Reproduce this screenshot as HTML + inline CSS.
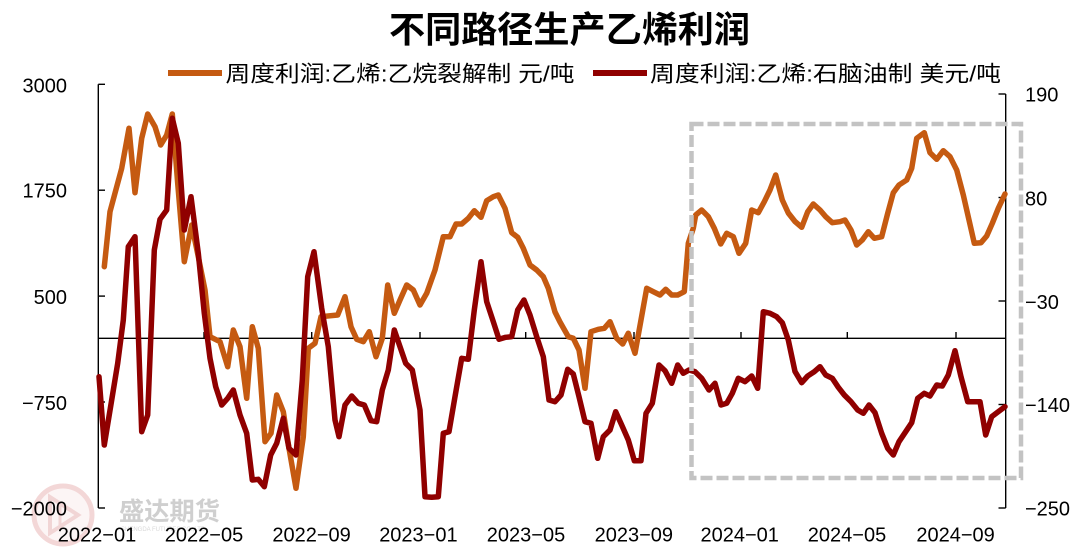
<!DOCTYPE html>
<html>
<head>
<meta charset="utf-8">
<style>
  html, body { margin: 0; padding: 0; background: #ffffff; }
  body { width: 1080px; height: 552px; overflow: hidden; }
  svg { display: block; }
  text { font-family: "Liberation Sans", "Noto Sans CJK SC", sans-serif; fill: #000; }
</style>
</head>
<body>
<svg width="1080" height="552" viewBox="0 0 1080 552" xmlns="http://www.w3.org/2000/svg">
  <rect x="0" y="0" width="1080" height="552" fill="#ffffff"/>

  <!-- Watermark -->
  <g opacity="0.55">
    <circle cx="63" cy="515" r="29" fill="#fbeeee" stroke="#eab8b8" stroke-width="5"/>
    <path d="M50 497 L78 515 L50 533 Z" fill="none" stroke="#e7b3b3" stroke-width="4"/>
    <path d="M60 502 L60 528" stroke="#e7b3b3" stroke-width="3"/>
  </g>
  <text x="119" y="520" font-size="25" font-weight="bold" style="fill:#cfcfcf" textLength="101" lengthAdjust="spacingAndGlyphs">盛达期货</text>
  <text x="121" y="531" font-size="6" style="fill:#d8d8d8">SHENGDA FUTURES CO.,LTD</text>

  <!-- Title -->
  <text x="389" y="42" font-size="36" font-weight="bold" textLength="361" lengthAdjust="spacingAndGlyphs">不同路径生产乙烯利润</text>

  <!-- Legend -->
  <line x1="168" y1="73" x2="222" y2="73" stroke="#C55A11" stroke-width="6"/>
  <text x="225.5" y="81.5" font-size="22" textLength="349" lengthAdjust="spacingAndGlyphs">周度利润:乙烯:乙烷裂解制 元/吨</text>
  <line x1="593" y1="73" x2="647" y2="73" stroke="#900000" stroke-width="6"/>
  <text x="650" y="81.5" font-size="22" textLength="351" lengthAdjust="spacingAndGlyphs">周度利润:乙烯:石脑油制 美元/吨</text>

  <!-- Left axis -->
  <g stroke="#000" stroke-width="1.4" fill="none">
    <line x1="98.3" y1="84.3" x2="98.3" y2="508"/>
    <line x1="98.3" y1="84.3" x2="105" y2="84.3"/>
    <line x1="98.3" y1="190.2" x2="105" y2="190.2"/>
    <line x1="98.3" y1="296.1" x2="105" y2="296.1"/>
    <line x1="98.3" y1="402" x2="105" y2="402"/>
    <line x1="98.3" y1="508" x2="105" y2="508"/>
    <!-- Right axis -->
    <line x1="1005.7" y1="94" x2="1005.7" y2="508"/>
    <line x1="998.5" y1="94" x2="1005.7" y2="94"/>
    <line x1="998.5" y1="197.5" x2="1005.7" y2="197.5"/>
    <line x1="998.5" y1="301" x2="1005.7" y2="301"/>
    <line x1="998.5" y1="404.5" x2="1005.7" y2="404.5"/>
    <line x1="998.5" y1="508" x2="1005.7" y2="508"/>
    <!-- Zero line / x axis -->
    <line x1="98.3" y1="338.3" x2="1005.7" y2="338.3"/>
    <line x1="204" y1="332" x2="204" y2="338.3"/>
    <line x1="311.7" y1="332" x2="311.7" y2="338.3"/>
    <line x1="420" y1="332" x2="420" y2="338.3"/>
    <line x1="525.7" y1="332" x2="525.7" y2="338.3"/>
    <line x1="634" y1="332" x2="634" y2="338.3"/>
    <line x1="741" y1="332" x2="741" y2="338.3"/>
    <line x1="847.3" y1="332" x2="847.3" y2="338.3"/>
    <line x1="956" y1="332" x2="956" y2="338.3"/>
  </g>

  <!-- Left labels -->
  <g font-size="20" text-anchor="end">
    <text x="67" y="92.5">3000</text>
    <text x="67" y="197.5">1750</text>
    <text x="67" y="303.8">500</text>
    <text x="67" y="410">−750</text>
    <text x="67" y="515.5">−2000</text>
  </g>
  <!-- Right labels -->
  <g font-size="20" text-anchor="start">
    <text x="1025" y="101.3">190</text>
    <text x="1025" y="205.5">80</text>
    <text x="1025" y="308.9">−30</text>
    <text x="1025" y="412.2">−140</text>
    <text x="1025" y="515.5">−250</text>
  </g>
  <!-- X labels -->
  <g font-size="20" text-anchor="middle">
    <text x="97" y="541.5">2022−01</text>
    <text x="204" y="541.5">2022−05</text>
    <text x="311.6" y="541.5">2022−09</text>
    <text x="418.4" y="541.5">2023−01</text>
    <text x="526" y="541.5">2023−05</text>
    <text x="633.8" y="541.5">2023−09</text>
    <text x="739.7" y="541.5">2024−01</text>
    <text x="847" y="541.5">2024−05</text>
    <text x="955.6" y="541.5">2024−09</text>
  </g>

  <!-- Orange series -->
  <polyline fill="none" stroke="#C55A11" stroke-width="5.5" stroke-linejoin="round" stroke-linecap="round" points="
104.3,266.7 110,211.7 121.7,168.3 129,128.3 135,192.7 141.7,138.3 147.7,114 155,126.7 160.7,145 166.7,135 172.3,114 177.7,183.3 184.3,261.7 191.7,225 198.3,256.7 205,290 210,336.7 220,341.7 227.7,366.7 233.3,330 240,346.7 246.7,398.3 252.3,326.7 258.3,348.3 265,441.7 271,433.3 276.7,395 283.3,411.7 289,448.3 296,488.3 303.3,436.7 308.3,348.3 315,343.3 321,316.7 337.7,315 345,296.7 351,326.7 356.7,339.3 363.3,341.7 369.3,331.7 376,356.7 382.3,338.3 387.7,285 394.3,313.3 400,300 406.7,285 413.3,290 420,305 426.7,293.3 435,270 443.3,236.7 450,236.7 456,224 461.7,224 468.3,218.3 474.3,210.7 481,217.3 486.7,200.7 493.3,196.7 498.3,195 505,208.3 511.7,232.7 517.7,237.3 523.3,248.3 530,265 536.7,270 543.3,276.7 548.3,288.3 555,312 560,322 568.3,336.7 573.3,338.3 579,350 585,388.3 591,331.7 598.3,329.3 604.3,328.3 610,321.7 616.7,338.3 622.7,344 628.3,333.3 635,353.3 641,320 646.7,288.3 653.3,291.7 660,295 665.7,289.3 671.7,295 677.7,295 684.3,291.7 688.3,243.3 693.3,228.3 695.7,215 701.7,210 708.3,216.7 714.3,228.3 720.7,244 726.7,233.3 733.3,236.7 739,253.3 745.7,243.3 751.7,210 758.3,212.7 764.3,201.7 770,190 775.7,175 782.3,200 788.3,213 795,221.5 801.7,227.3 807.7,211.7 813.3,204 820,210 825.7,216.7 832.3,222.7 840,221.7 845,220 851,230 856.7,245 862.3,240 868.3,231.7 874.3,238.3 881.7,236.7 887.7,213.3 893.3,192.7 899,185 906.7,180 911.7,168.3 916.7,138.3 924.3,132.7 930,152.7 936.7,159.3 943.3,150.7 950,156.7 956.7,170 963.3,195 969,220 974.3,243.3 981,242.7 986.7,236 992.3,223.3 998.3,208.3 1005,194"/>

  <!-- Dark red series -->
  <polyline fill="none" stroke="#900000" stroke-width="5.5" stroke-linejoin="round" stroke-linecap="round" points="
99,376.7 104.3,445 111.7,400 117.7,363.3 123.3,320 128.3,246.7 135,236.7 141.7,431.7 147.7,415 154.3,250 160,219.3 166.7,210 172.3,118.3 178.3,143.3 184.3,230 191,196.7 198.3,253.3 204.3,313.3 210,358.3 215.7,386.7 221.7,405 227.7,398.3 233.3,390 240,415 246.7,433.3 252.3,480 258.3,479.3 264.3,486.7 270.7,455 276.7,443.3 283.3,418.3 289,448.3 296,455 302.3,380 307.7,276.7 314,251.7 321.7,308.3 328.3,346.7 335,420 339,436.7 345,405 351.7,396 358.3,403.3 364.3,405 371,420.7 376.7,421.7 382.3,390 388.3,370 394.3,330 400,346.7 405.7,363.3 412.3,370 420,410 425,496.7 431.7,497.3 438.3,496.7 443.3,433.3 449,431.7 455,396.7 461.7,358.3 468.3,359.3 474.3,310 481,261.7 486.7,301.7 493.3,321.7 499,339.3 505.7,337.3 511.7,336.7 517.7,310 524,300 530,315 536.7,336.7 543.3,356.7 549,400 555,401.7 561,395 567.7,369.3 573.3,374 579,396.7 585,421.7 591,423.3 597.7,458.3 603.3,436.7 610,430 615.7,411.7 621.7,425 628.3,440 634.3,460.7 641,460.7 646,413.3 652.3,403.3 659,365 665,370.7 671.7,383.3 677.7,365 683.3,373.3 689,370 695,371.7 701.7,378.3 709,390 715,383.3 721,405 726.7,403.3 732.3,393.3 738.3,378.3 745,381.7 751.7,376 757.7,388.3 763.3,311.7 770,313.3 776.7,316.7 782.3,322.7 788.3,340 795,371.5 801.7,382.7 807.7,376 814.3,371.7 820,366.7 825.7,375 832.3,378.3 838.3,387.3 844.3,395 851,401.7 857.7,410 863.3,413.3 869,405 875,412.7 881.7,433.3 887.7,448.3 893.3,455 899,441.7 905.7,431.7 911.7,422.7 917.7,398.3 924.3,393.3 930,396 936.7,385 942.3,386 948.3,375 955,350.7 961,376.7 967.7,401.7 974.3,401.7 980,401.7 985.7,435 991.7,416.7 998.3,411.7 1005,406.7"/>

  <!-- Dashed highlight box -->
  <rect x="691.5" y="124" width="329.5" height="354" fill="none" stroke="#c3c3c3" stroke-width="4.5" stroke-dasharray="12 4"/>
</svg>
</body>
</html>
